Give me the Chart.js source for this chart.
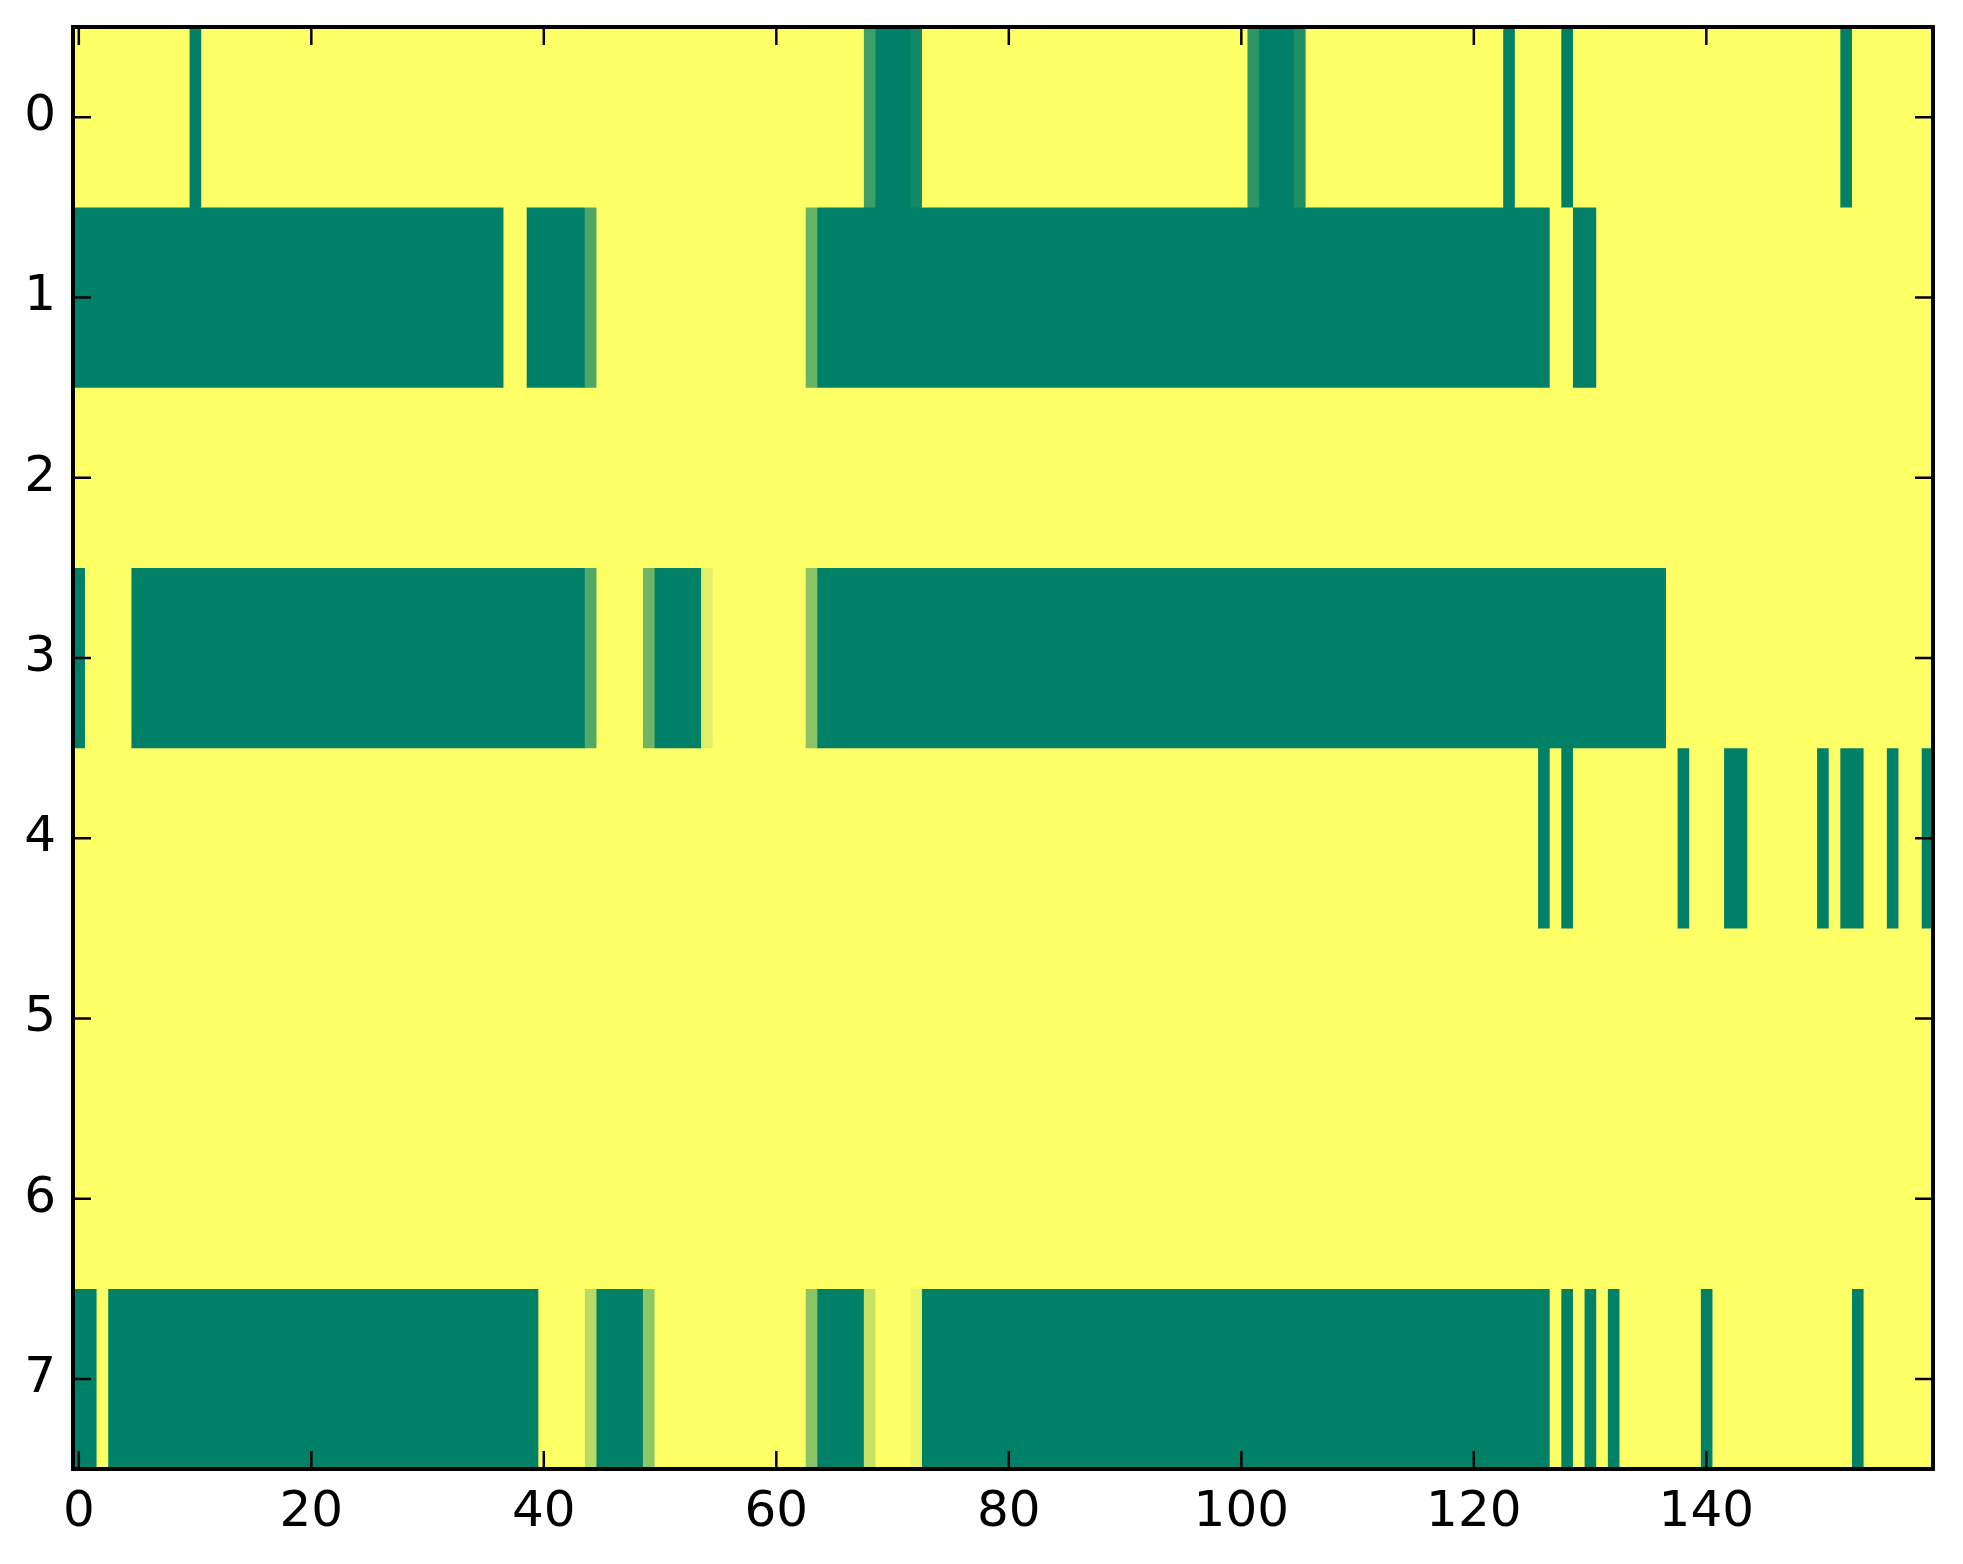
<!DOCTYPE html>
<html lang="en">
<head>
  <meta charset="UTF-8">
  <title>Heatmap</title>
  <style>
    body {
      margin: 0;
      padding: 0;
      background: #fff;
    }
    .wrap {
      width: 1963px;
      height: 1564px;
      position: relative;
    }
  </style>
  <script src="https://cdn.jsdelivr.net/npm/chart.js"></script>
</head>
<body>
  <div class="wrap">
    <canvas id="heat"></canvas>
  </div>

  <script>
    // rows of the image, each one as runs [firstColumn, lastColumn, value]
    const row0 = [[0, 9, 1], [10, 10, 0], [11, 67, 1], [68, 68, 0.24], [69, 71, 0], [72, 72, 0.07],
      [73, 100, 1], [101, 101, 0.18], [102, 104, 0], [105, 105, 0.12], [106, 122, 1], [123, 123, 0],
      [124, 127, 1], [128, 128, 0], [129, 151, 1], [152, 152, 0], [153, 159, 1]];
    const row1 = [[0, 36, 0], [37, 38, 1], [39, 43, 0], [44, 44, 0.3], [45, 62, 1], [63, 63, 0.4],
      [64, 126, 0], [127, 128, 1], [129, 130, 0], [131, 159, 1]];
    const row2 = [[0, 159, 1]];
    const row3 = [[0, 0, 0], [1, 4, 1], [5, 43, 0], [44, 44, 0.32], [45, 48, 1], [49, 49, 0.43],
      [50, 53, 0], [54, 54, 0.88], [55, 62, 1], [63, 63, 0.54], [64, 136, 0], [137, 159, 1]];
    const row4 = [[0, 125, 1], [126, 126, 0], [127, 127, 1], [128, 128, 0], [129, 137, 1], [138, 138, 0],
      [139, 141, 1], [142, 143, 0], [144, 149, 1], [150, 150, 0], [151, 151, 1], [152, 153, 0],
      [154, 155, 1], [156, 156, 0], [157, 158, 1], [159, 159, 0]];
    const row5 = [[0, 159, 1]];
    const row6 = [[0, 159, 1]];
    const row7 = [[0, 1, 0], [2, 2, 1], [3, 39, 0], [40, 43, 1], [44, 44, 0.72], [45, 48, 0],
      [49, 49, 0.55], [50, 62, 1], [63, 63, 0.54], [64, 67, 0], [68, 68, 0.78], [69, 71, 1],
      [72, 72, 0.93], [73, 126, 0], [127, 127, 1], [128, 128, 0], [129, 129, 1], [130, 130, 0],
      [131, 131, 1], [132, 132, 0], [133, 139, 1], [140, 140, 0], [141, 152, 1], [153, 153, 0],
      [154, 159, 1]];

    const rows = [row0, row1, row2, row3, row4, row5, row6, row7];
    const xTicks = [0, 20, 40, 60, 80, 100, 120, 140];
    const yTicks = [0, 1, 2, 3, 4, 5, 6, 7];
    const nCols = 160;

    // matplotlib "summer" colormap
    function summer(v) {
      const r = Math.round(v * 255);
      const g = Math.round((0.5 + 0.5 * v) * 255);
      return 'rgb(' + r + ',' + g + ',102)';
    }

    const datasets = [];
    rows.forEach(function(runs, r) {
      runs.forEach(function(run) {
        datasets.push({
          data: [{ x: [run[0] - 0.5, run[1] + 0.5], y: r }],
          backgroundColor: summer(run[2]),
          borderWidth: 0,
          grouped: false,
          barPercentage: 1,
          categoryPercentage: 1
        });
      });
    });

    // frame and inward ticks on all four sides
    const frame = {
      id: 'frame',
      afterDraw(chart) {
        const ctx = chart.ctx;
        const a = chart.chartArea;
        const xs = chart.scales.x;
        const ys = chart.scales.y;
        ctx.save();
        ctx.strokeStyle = '#000';
        ctx.lineWidth = 2.5;
        ctx.beginPath();
        xTicks.forEach(function(t) {
          const px = xs.getPixelForValue(t);
          ctx.moveTo(px, a.bottom); ctx.lineTo(px, a.bottom - 18);
          ctx.moveTo(px, a.top); ctx.lineTo(px, a.top + 18);
        });
        yTicks.forEach(function(t) {
          const py = ys.getPixelForValue(t);
          ctx.moveTo(a.left, py); ctx.lineTo(a.left + 18, py);
          ctx.moveTo(a.right, py); ctx.lineTo(a.right - 18, py);
        });
        ctx.stroke();
        ctx.lineWidth = 4;
        ctx.strokeRect(a.left, a.top, a.right - a.left, a.bottom - a.top);
        ctx.restore();
      }
    };

    const tickFont = { family: 'DejaVu Sans', size: 50 };

    new Chart(document.getElementById('heat').getContext('2d'), {
      type: 'bar',
      data: { datasets: datasets },
      options: {
        indexAxis: 'y',
        responsive: true,
        maintainAspectRatio: false,
        animation: false,
        layout: { padding: { top: 27, right: 30, left: 0, bottom: 0 } },
        plugins: {
          legend: { display: false },
          tooltip: { enabled: false }
        },
        scales: {
          x: {
            type: 'linear',
            min: -0.5,
            max: nCols - 0.5,
            offset: false,
            grid: { display: false, drawTicks: false },
            border: { display: false },
            afterBuildTicks: function(scale) {
              scale.ticks = xTicks.map(function(v) { return { value: v }; });
            },
            afterFit: function(scale) {
              scale.height = 95;
              scale.paddingLeft = 0;
              scale.paddingRight = 0;
            },
            ticks: { font: tickFont, color: '#000', padding: 14, maxRotation: 0, autoSkip: false }
          },
          y: {
            type: 'linear',
            reverse: true,
            min: -0.5,
            max: 7.5,
            offset: false,
            grid: { display: false, drawTicks: false, offset: false },
            border: { display: false },
            afterBuildTicks: function(scale) {
              scale.ticks = yTicks.map(function(v) { return { value: v }; });
            },
            afterFit: function(scale) {
              scale.width = 73;
              scale.paddingTop = 0;
              scale.paddingBottom = 0;
            },
            ticks: { font: tickFont, color: '#000', padding: 17, autoSkip: false }
          }
        }
      },
      plugins: [frame]
    });
  </script>
</body>
</html>
